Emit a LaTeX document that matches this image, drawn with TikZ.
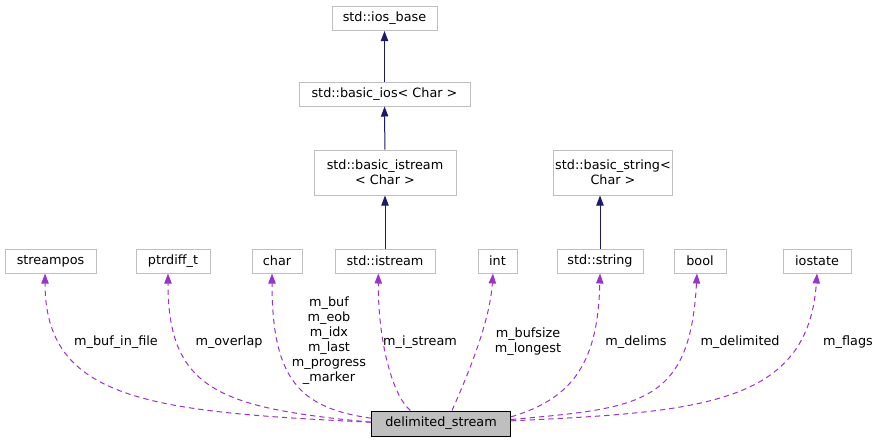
\documentclass[tikz,border=0pt]{standalone}
\usepackage{fontspec}
\setmainfont{DejaVu Sans}
\usetikzlibrary{arrows.meta}
\definecolor{BoxGray}{HTML}{BFBFBF}
\definecolor{InhNavy}{HTML}{191970}
\definecolor{UseViolet}{HTML}{9A32CD}
\tikzset{
  cls/.style={draw=BoxGray,fill=white,line width=0.75pt,inner sep=1pt,
    minimum height=18pt,align=center},
  focus/.style={cls,draw=black,fill=BoxGray},
  inh/.style={draw=InhNavy,line width=0.75pt,-{Triangle[length=7.5pt,width=5.5pt]}},
  uses/.style={draw=UseViolet,line width=0.75pt,dash pattern=on 4pt off 3pt,
    -{Triangle[length=7.5pt,width=5.5pt]}},
  lbl/.style={align=center,inner sep=0pt},
}

\begin{document}
\begin{tikzpicture}[x=0.75pt,y=-0.75pt,font=\fontsize{9.6}{11.2}\selectfont]
  \useasboundingbox (0,0) rectangle (880,443);

  % Inheritance chain above std::istream and std::string.
  \node[cls,minimum width=78.75pt] (iosb) at (384.5,18.5) {std::ios\_base};
  \node[cls,minimum width=128.25pt] (bios) at (384.5,94) {std::basic\_ios< Char >};
  \node[cls,minimum width=106.5pt,minimum height=33.75pt] (bist) at (385,172.5)
    {std::basic\_istream\\< Char >};
  \node[cls,minimum width=84pt,minimum height=33.75pt] (bstr) at (613,172.5)
    {std::basic\_string<\\Char >};

  % Member types, one row.
  \foreach \name/\x/\w/\txt in {sp/50.5/68.25pt/streampos,pd/173/55.5pt/ptrdiff\_t,
      chr/277/37.5pt/char,ist/385/75pt/std::istream,int/497.5/29.25pt/int,
      str/600/64.5pt/std::string,boo/700/39pt/bool,ios/817/51pt/iostate}
    \node[cls,minimum width=\w] (\name) at (\x,261) {\txt};

  \node[focus,minimum width=104.25pt,minimum height=18.75pt] (ds) at (441,423.5)
    {delimited\_stream};

  \draw[inh] (bios) -- (iosb);
  \draw[inh] (bist) -- (bios);
  \draw[inh] (ist) -- (bist);
  \draw[inh] (str) -- (str.north |- bstr.south);

  % Members of delimited_stream.
  \draw[uses] ([yshift=1pt]ds.west) .. controls (150,412) and (45,400) .. ([xshift=-4.1pt]sp.south);
  \draw[uses] ([yshift=1pt]ds.west) .. controls (220,408) and (168,390) .. ([xshift=-3.75pt]pd.south);
  \draw[uses] ([yshift=4pt]ds.west) .. controls (300,408) and (272,380) .. ([xshift=-3.75pt]chr.south);
  \draw[uses] ([xshift=-23pt]ds.north) .. controls (392,395) and (378,340) .. ([xshift=-5pt]ist.south);
  \draw[uses] ([xshift=8.25pt]ds.north) .. controls (470,370) and (490,320) .. ([xshift=-3.4pt]int.south);
  \draw[uses] ([yshift=5pt]ds.east) .. controls (575,398) and (598,360) .. (str.south);
  \draw[uses] ([yshift=3pt]ds.east) .. controls (640,408) and (690,405) .. ([xshift=-2.25pt]boo.south);
  \draw[uses] ([yshift=2pt]ds.east) .. controls (700,412) and (808,405) .. (ios.south);

  \node[lbl] (l1) at (116,342) {m\_buf\_in\_file};
  \node[lbl] (l2) at (229,342) {m\_overlap};
  \node[lbl] (l3) at (329,340.5) {m\_buf\\m\_eob\\m\_idx\\m\_last\\m\_progress\\\_marker};
  \node[lbl] (l4) at (420,342) {m\_i\_stream};
  \node[lbl] (l5) at (528,342) {m\_bufsize\\m\_longest};
  \node[lbl] (l6) at (636,342) {m\_delims};
  \node[lbl] (l7) at (740,342) {m\_delimited};
  \node[lbl] (l8) at (848,342) {m\_flags};
\end{tikzpicture}
\end{document}
